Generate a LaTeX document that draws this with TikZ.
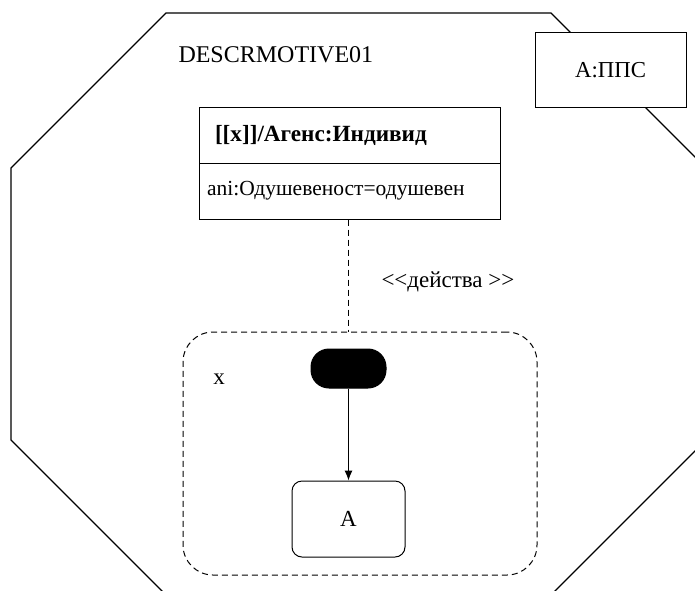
\documentclass[tikz,border=0pt]{standalone}
\usepackage{fontspec}
\setmainfont{Liberation Serif}
\usetikzlibrary{arrows.meta}
\newcommand{\diagfont}[1]{\fontsize{#1}{1.2\dimexpr#1\relax}\selectfont}

\tikzstyle{classhead} = [draw, rectangle, text width=269pt, inner xsep=16pt, minimum height=56pt, align=left, font=\diagfont{23.2pt}\bfseries]
\tikzstyle{classattr} = [draw, rectangle, text width=285pt, inner xsep=8pt, minimum height=56pt, align=left, font=\diagfont{21.5pt}]
\tikzstyle{objbox} = [draw, rectangle, fill=white, minimum width=151pt, minimum height=75pt, font=\diagfont{22.8pt}]
\tikzstyle{statebox} = [draw, rectangle, rounded corners=10pt, minimum width=113pt, minimum height=76pt, font=\diagfont{23pt}]
\tikzstyle{initstate} = [draw, fill=black, rectangle, rounded corners=18pt, minimum width=75pt, minimum height=39pt]
\tikzstyle{region} = [draw, rectangle, dash pattern=on 6pt off 4pt, rounded corners=30pt, minimum width=354pt, minimum height=243pt]
\tikzstyle{labeltext} = [font=\diagfont{23pt}, inner sep=0pt]
\tikzstyle{arrow} = [draw, -{Latex[length=10pt, width=8pt]}]

\begin{document}
\begin{tikzpicture}[x=1pt, y=-1pt, line width=1pt]
  \useasboundingbox (0,0) rectangle (695,590);

  % octagon of the motive, cut by the page
  \begin{scope}
    \clip (0,0) rectangle (695,590);
    \draw [line width=1.2pt] (166,13) -- (551,13) -- (706,168) -- (706,440) -- (551,595) -- (166,595) -- (11,440) -- (11,168) -- cycle;
  \end{scope}

  \node [labeltext, anchor=west, font=\diagfont{24pt}] (motive) at (178,55) {DESCRMOTIVE01};
  \node [objbox] (pps) at (610.5,70) {A:ППС};

  \node [classhead] (head) at (349.5,135) {[[x]]/Агенс:Индивид};
  \node [classattr, below of=head, node distance=56pt] (attr) {ani:Одушевеност=одушевен};

  \node [region] (reg) at (360,453.5) {};
  \node [labeltext] (xlabel) at (219,379) {x};
  \node [initstate] (start) at (348.5,368.5) {};
  \node [statebox, below of=start, node distance=150.5pt] (stateA) {A};

  \draw [dash pattern=on 6pt off 4pt] ([xshift=-1.5pt]attr.south) -- node[labeltext, right, xshift=33pt, yshift=-6pt] (rel) {<\kern0pt<действа >\kern0pt>} ([xshift=-1.5pt]attr.south |- reg.north);
  \draw [arrow] (start.south) -- (stateA.north);
\end{tikzpicture}
\end{document}
